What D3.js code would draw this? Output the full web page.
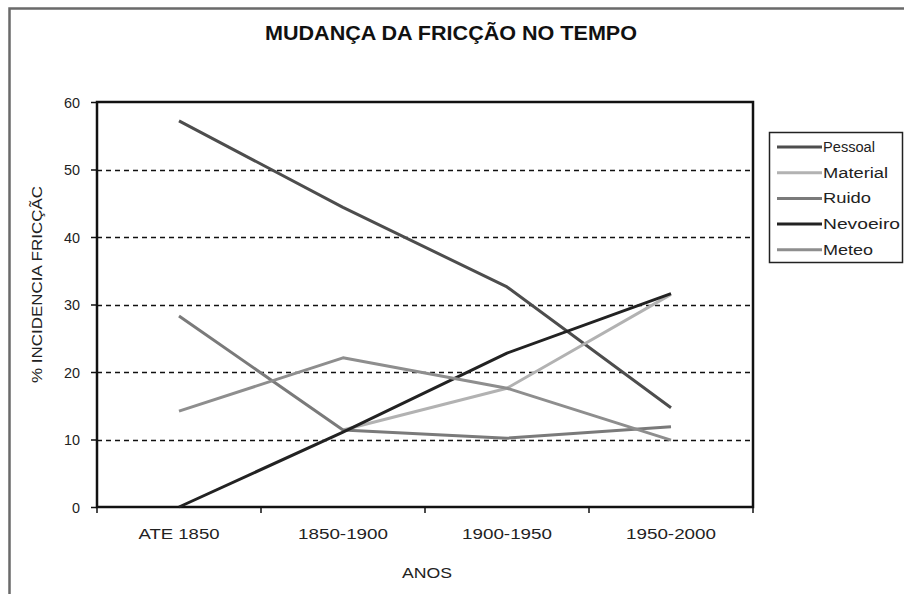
<!DOCTYPE html>
<html><head><meta charset="utf-8">
<script src="https://cdn.jsdelivr.net/npm/d3@7"></script>
<style>body{margin:0;background:#fff}svg{display:block}text{font-family:"Liberation Sans",Arial,sans-serif}</style>
</head><body><svg id="c" width="904" height="594"></svg>
<script>
const categories = ["ATE 1850", "1850-1900", "1900-1950", "1950-2000"];
const seriesNames = ["Pessoal", "Material", "Ruido", "Nevoeiro", "Meteo"];
const pessoal  = [57.2, 44.4, 32.6, 14.7];
const material = [null, 11.4, 17.6, 31.5];
const ruido    = [28.3, 11.4, 10.2, 11.9];
const nevoeiro = [0, 11.1, 22.8, 31.6];
const meteo    = [14.2, 22.1, 17.6, 9.9];
const yTicks = [0, 10, 20, 30, 40, 50, 60];
const colors = ["#4d4d4d", "#b2b2b2", "#7a7a7a", "#222222", "#8e8e8e"];
const allSeries = [pessoal, material, ruido, nevoeiro, meteo];
const legendTextWidths = [52, 65, 48, 77, 50];

const svg = d3.select("#c");
const L = 97, R = 753, T = 102, B = 507;
const x = d3.scaleBand().domain(categories).range([L, R]);
const y = d3.scaleLinear().domain([0, 60]).range([B, T]);

// outer chart border
svg.append("rect").attr("x", 9.5).attr("y", 8.5).attr("width", 920).attr("height", 620)
  .attr("fill", "none").attr("stroke", "#6a6a6a").attr("stroke-width", 2.5);

// title
svg.append("text").attr("x", 451).attr("y", 40).attr("text-anchor", "middle")
  .style("font-weight", "bold").style("font-size", "20px").attr("fill", "#111")
  .attr("textLength", 372).attr("lengthAdjust", "spacingAndGlyphs")
  .text("MUDANÇA DA FRICÇÃO NO TEMPO");

// gridlines
svg.append("g").selectAll("line").data(yTicks.filter(d => d > 0 && d < 60)).join("line")
  .attr("x1", L).attr("x2", R).attr("y1", d => Math.round(y(d)) + 0.5).attr("y2", d => Math.round(y(d)) + 0.5)
  .attr("stroke", "#111").attr("stroke-width", 1.5).attr("stroke-dasharray", "5,4");

// y axis
const ya = svg.append("g").attr("transform", `translate(${L},0)`)
  .call(d3.axisLeft(y).tickValues(yTicks).tickSize(6).tickPadding(11));
ya.select(".domain").remove();
ya.selectAll("line").attr("stroke", "#111").attr("stroke-width", 1.5);
ya.selectAll("text").style("font-size", "15px").attr("fill", "#222").attr("dy", "0.35em")
  .attr("textLength", d => d === 0 ? 8 : 16).attr("lengthAdjust", "spacingAndGlyphs");

// x axis
const xa = svg.append("g").attr("transform", `translate(0,${B})`)
  .call(d3.axisBottom(x).tickSize(0).tickPadding(21));
xa.select(".domain").remove();
xa.selectAll("text").style("font-size", "15px").attr("fill", "#222")
  .attr("textLength", d => d === "ATE 1850" ? 81 : 90).attr("lengthAdjust", "spacingAndGlyphs");
svg.append("g").selectAll("line").data(d3.range(categories.length + 1)).join("line")
  .attr("x1", i => L + i * x.step()).attr("x2", i => L + i * x.step())
  .attr("y1", B).attr("y2", B + 6).attr("stroke", "#111").attr("stroke-width", 1.5);

// plot frame
svg.append("rect").attr("x", L).attr("y", T).attr("width", R - L).attr("height", B - T)
  .attr("fill", "none").attr("stroke", "#111").attr("stroke-width", 2.5);

// lines
const line = d3.line().defined(d => d.v != null)
  .x(d => x(d.c) + x.bandwidth() / 2).y(d => y(d.v));
allSeries.forEach((s, i) => {
  svg.append("path").datum(s.map((v, j) => ({c: categories[j], v})))
    .attr("d", line).attr("fill", "none").attr("stroke", colors[i])
    .attr("stroke-width", 3).attr("stroke-linejoin", "round");
});

// axis titles
svg.append("text").attr("transform", `translate(42,${(T + B) / 2 - 20}) rotate(-90)`)
  .attr("text-anchor", "middle").style("font-size", "14px").attr("fill", "#222")
  .attr("textLength", 197).attr("lengthAdjust", "spacingAndGlyphs")
  .text("% INCIDENCIA FRICÇÃC");
svg.append("text").attr("x", (L + R) / 2 + 2).attr("y", 578).attr("text-anchor", "middle")
  .style("font-size", "15px").attr("fill", "#222").attr("textLength", 50).attr("lengthAdjust", "spacingAndGlyphs")
  .text("ANOS");

// legend
const lg = svg.append("g");
lg.append("rect").attr("x", 769.5).attr("y", 132.5).attr("width", 133).attr("height", 130)
  .attr("fill", "#fff").attr("stroke", "#222").attr("stroke-width", 1.5);
seriesNames.forEach((n, i) => {
  const yy = 147 + i * 25.7;
  lg.append("line").attr("x1", 777).attr("x2", 822).attr("y1", yy).attr("y2", yy)
    .attr("stroke", colors[i]).attr("stroke-width", 3);
  lg.append("text").attr("x", 823).attr("y", yy).attr("dy", "0.36em")
    .style("font-size", "14px").attr("fill", "#222")
    .attr("textLength", legendTextWidths[i]).attr("lengthAdjust", "spacingAndGlyphs").text(n);
});
</script></body></html>
